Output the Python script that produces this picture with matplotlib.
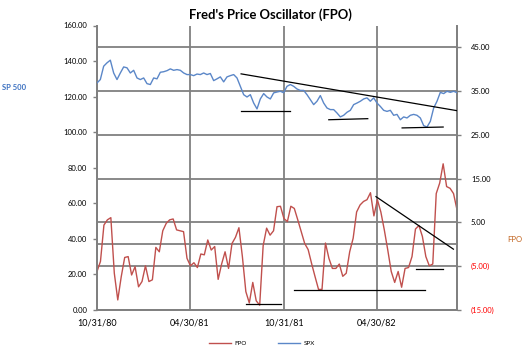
import matplotlib
matplotlib.use('Agg')
import matplotlib.pyplot as plt
import matplotlib.dates as mdates
import pandas as pd

# ---------------- data ----------------
spx_values = [127.7, 129.6, 137.1, 139.0, 140.5, 133.3, 129.6, 133.3, 136.7, 136.2,
              133.3, 134.8, 130.5, 129.6, 130.5, 127.3, 126.8, 130.5, 130.0, 133.7,
              134.0, 134.6, 135.6, 134.8, 135.2, 134.8, 133.3, 132.4, 132.4, 131.8,
              132.7, 132.4, 133.3, 132.4, 133.0, 129.0, 130.0, 131.1, 128.3, 131.1,
              131.8, 132.4, 130.5, 125.8, 121.1, 119.8, 121.1, 116.4, 113.1, 118.7,
              121.7, 119.8, 118.7, 122.1, 122.6,
              123.0, 122.2, 125.8, 126.8, 125.8, 124.3, 123.5, 123.5, 121.1, 118.3,
              115.5, 117.4, 120.6, 116.4, 113.6, 112.7, 112.7, 110.8, 108.6, 109.5,
              111.2, 112.3, 115.5, 116.4, 117.4, 118.7, 119.3, 117.4, 119.3, 116.4,
              114.5, 112.3, 111.7, 112.3, 109.5, 110.0, 107.0, 108.6, 108.0, 109.5,
              110.0, 109.5, 108.0, 103.7, 102.9, 106.1, 113.6, 117.4, 122.4, 121.7,
              123.0, 122.4, 123.0, 122.2]

fpo_values = [-6.2, -3.9, 4.4, 5.6, 6.1, -6.6, -12.7, -7.4, -3.0, -2.8,
              -7.0, -5.1, -9.7, -8.5, -4.9, -8.5, -8.1, -0.7, -1.7, 3.1,
              4.8, 5.6, 5.8, 3.3, 3.1, 2.9, -3.2, -4.9, -4.2, -5.3,
              -2.2, -2.4, 1.0, -1.3, -0.5, -8.0, -4.5, -1.7, -5.5, 0.2,
              1.6, 3.8, -2.8, -10.8, -13.4, -8.7, -12.9, -13.9, -0.3, 3.7,
              2.1, 3.1, 8.6, 8.7,
              5.9, 5.2, 8.7, 8.2, 5.6, 2.9, 0.2, -1.2, -4.4, -7.4,
              -10.3, -10.3, 0.3, -3.2, -5.5, -5.5, -4.5, -7.3, -6.6, -1.7,
              1.4, 7.4, 9.0, 9.8, 10.2, 11.8, 6.5, 10.2, 7.4, 3.3,
              -1.3, -6.2, -8.7, -6.2, -9.8, -5.5, -5.3, -2.8, 3.5, 4.3,
              1.8, -2.8, -4.9, -4.5, 11.6, 14.0, 18.4, 13.2, 12.8, 11.6,
              7.9]

start_date = '1980-10-31'
end_date = '1982-10-03'

x_tick_dates = ['1980-10-31', '1981-04-30', '1981-10-31', '1982-04-30']
x_tick_labels = ['10/31/80', '04/30/81', '10/31/81', '04/30/82']

left_ticks = [0, 20, 40, 60, 80, 100, 120, 140, 160]
left_tick_labels = ['0.00', '20.00', '40.00', '60.00', '80.00', '100.00', '120.00', '140.00', '160.00']
right_ticks = [-15, -5, 5, 15, 25, 35, 45]
right_tick_labels = ['(15.00)', '(5.00)', '5.00', '15.00', '25.00', '35.00', '45.00']

# hand-drawn trend lines (start date, end date, start value, end value)
spx_trend_start_dates = ['1981-08-08', '1981-08-08', '1982-01-26', '1982-06-18']
spx_trend_end_dates = ['1982-10-03', '1981-11-12', '1982-04-12', '1982-09-06']
spx_trend_start_vals = [132.8, 112.1, 107.0, 102.4]
spx_trend_end_vals = [112.1, 112.1, 107.6, 102.9]

fpo_trend_start_dates = ['1981-08-17', '1981-11-20', '1982-04-28', '1982-07-16']
fpo_trend_end_dates = ['1981-10-25', '1982-08-02', '1982-09-26', '1982-09-05']
fpo_trend_start_vals = [-13.6, -10.4, 10.9, -5.6]
fpo_trend_end_vals = [-13.6, -10.4, -1.1, -5.6]

# ---------------- style ----------------
FONT = ['Lato', 'DejaVu Sans']
plt.rcParams['font.family'] = FONT
GRID = '#808080'
BLUE = '#5B87C8'
RED = '#C0504D'

fig = plt.figure(figsize=(5.24, 3.52), dpi=100)
W, H = 524, 352
L, R, T, B = 97, 457, 25.5, 310
ax = fig.add_axes([L / W, 1 - B / H, (R - L) / W, (B - T) / H])  # FPO axis (right)
ax2 = ax.twinx()  # SPX axis (left)

spx_dates = pd.date_range(start_date, end_date, periods=len(spx_values))
fpo_dates = pd.date_range(start_date, end_date, periods=len(fpo_values))

# FPO on ax with ticks on the right
ax.plot(fpo_dates, fpo_values, color=RED, lw=1.0, zorder=3)
for sd, ed, sv, ev in zip(fpo_trend_start_dates, fpo_trend_end_dates,
                          fpo_trend_start_vals, fpo_trend_end_vals):
    ax.plot(pd.to_datetime([sd, ed]), [sv, ev], color='black', lw=0.9, zorder=4)
ax.set_ylim(-15, 50)
ax.yaxis.tick_right()
ax.set_yticks(right_ticks)
ax.set_yticklabels(right_tick_labels)
ax.axhline(0, color=GRID, lw=1.3, zorder=1)

# SPX on ax2 with ticks on the left
ax2.plot(spx_dates, spx_values, color=BLUE, lw=1.0, zorder=3)
for sd, ed, sv, ev in zip(spx_trend_start_dates, spx_trend_end_dates,
                          spx_trend_start_vals, spx_trend_end_vals):
    ax2.plot(pd.to_datetime([sd, ed]), [sv, ev], color='black', lw=0.9, zorder=4)
ax2.set_ylim(0, 160)
ax2.yaxis.tick_left()
ax2.set_yticks(left_ticks)
ax2.set_yticklabels(left_tick_labels)

ax.set_xlim(pd.Timestamp(start_date), pd.Timestamp(end_date))
ax.set_xticks(pd.to_datetime(x_tick_dates))
ax.set_xticklabels(x_tick_labels)

ax.grid(True, axis='both', color=GRID, lw=1.3, zorder=0)
ax.set_axisbelow(True)

for a in (ax, ax2):
    a.spines['top'].set_visible(False)
    for s in ('left', 'right', 'bottom'):
        a.spines[s].set_color(GRID)
        a.spines[s].set_linewidth(1.3)
    a.tick_params(colors=GRID, labelsize=5.5, length=3, width=1.0)
ax.tick_params(axis='x', labelcolor='black', labelsize=6.5, pad=6, length=0)
ax.tick_params(axis='y', pad=7)
ax2.tick_params(axis='y', labelcolor='black', pad=4)
for lbl, v in zip(ax.get_yticklabels(), right_ticks):
    lbl.set_color('#FF0000' if v < 0 else 'black')

fig.text(270 / W, 1 - 15 / H, "Fred's Price Oscillator (FPO)", ha='center', va='center',
         fontsize=9.4, fontweight='bold', color='black')
fig.text(2 / W, 1 - 87 / H, 'SP 500', ha='left', va='center', fontsize=5.5,
         color='#3A6FC0', fontweight='bold')
fig.text(507 / W, 1 - 240 / H, 'FPO', ha='left', va='center', fontsize=5.5,
         color='#C0601A')

from matplotlib.lines import Line2D
handles = [Line2D([], [], color=RED, lw=1.0), Line2D([], [], color=BLUE, lw=1.0)]
fig.legend(handles, ['FPO', 'SPX'], loc='center', bbox_to_anchor=(262 / W, 1 - 343 / H),
           ncol=2, frameon=False, fontsize=4.5, handlelength=3.5, columnspacing=5,
           handletextpad=0.6)

fig.savefig('out.png', dpi=100)
